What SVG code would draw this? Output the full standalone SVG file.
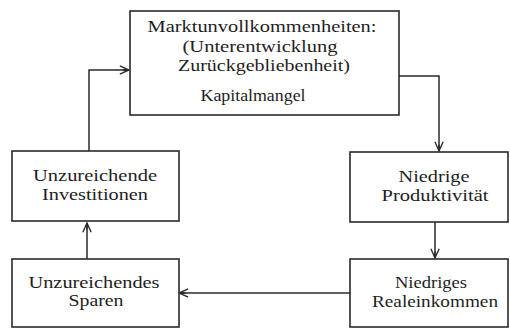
<svg xmlns="http://www.w3.org/2000/svg" width="510" height="329" viewBox="0 0 510 329">
<style>
.box{fill:#fff;stroke:#2a2a2a;stroke-width:1.6}
.t{font-family:"Liberation Serif","DejaVu Serif",serif;font-size:16px;fill:#1e1e1e;text-anchor:middle}
.c{fill:none;stroke:#2a2a2a;stroke-width:1.5}
</style>
<defs>
<marker id="ah" viewBox="0 0 12 12" refX="11" refY="6" markerWidth="11" markerHeight="11" markerUnits="userSpaceOnUse" orient="auto">
<path d="M1,1.5 L11,6 L1,10.5 M11,6 L4,6" fill="none" stroke="#2a2a2a" stroke-width="1.5"/>
</marker>
</defs>
<rect width="510" height="329" fill="#fff"/>
<g id="connectors">
<path class="c" d="M399,76 H439 V151" marker-end="url(#ah)"/>
<path class="c" d="M435,222 V258" marker-end="url(#ah)"/>
<path class="c" d="M350,293 H179" marker-end="url(#ah)"/>
<path class="c" d="M87,259 V223" marker-end="url(#ah)"/>
<path class="c" d="M89,151 V70 H129" marker-end="url(#ah)"/>
</g>
<g id="markt">
<rect class="box" x="130" y="11" width="269" height="104"/>
<text class="t" x="262" y="32" textLength="229" lengthAdjust="spacingAndGlyphs">Marktunvollkommenheiten:</text>
<text class="t" x="260" y="52" textLength="155" lengthAdjust="spacingAndGlyphs">(Unterentwicklung</text>
<text class="t" x="264" y="71" textLength="172" lengthAdjust="spacingAndGlyphs">Zurückgebliebenheit)</text>
<text class="t" x="253" y="101" textLength="105" lengthAdjust="spacingAndGlyphs">Kapitalmangel</text>
</g>
<g id="produktivitaet">
<rect class="box" x="350" y="152" width="158" height="70"/>
<text class="t" x="434" y="182" textLength="71" lengthAdjust="spacingAndGlyphs">Niedrige</text>
<text class="t" x="435" y="201" textLength="107" lengthAdjust="spacingAndGlyphs">Produktivität</text>
</g>
<g id="realeinkommen">
<rect class="box" x="350" y="259" width="158" height="68"/>
<text class="t" x="431" y="288" textLength="72" lengthAdjust="spacingAndGlyphs">Niedriges</text>
<text class="t" x="435" y="307" textLength="126" lengthAdjust="spacingAndGlyphs">Realeinkommen</text>
</g>
<g id="sparen">
<rect class="box" x="12" y="259" width="167" height="68"/>
<text class="t" x="94" y="288" textLength="131" lengthAdjust="spacingAndGlyphs">Unzureichendes</text>
<text class="t" x="96" y="306" textLength="55" lengthAdjust="spacingAndGlyphs">Sparen</text>
</g>
<g id="investitionen">
<rect class="box" x="12" y="151" width="167" height="70"/>
<text class="t" x="95" y="181" textLength="124" lengthAdjust="spacingAndGlyphs">Unzureichende</text>
<text class="t" x="95" y="200" textLength="106" lengthAdjust="spacingAndGlyphs">Investitionen</text>
</g>
</svg>
